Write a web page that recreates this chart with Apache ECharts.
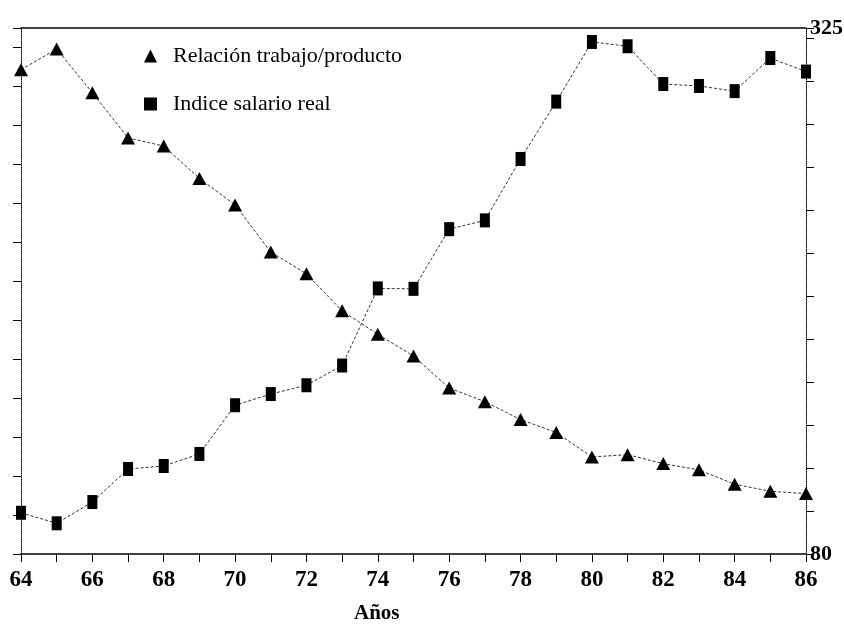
<!DOCTYPE html>
<html>
<head>
<meta charset="utf-8">
<script src="https://cdn.jsdelivr.net/npm/echarts@6/dist/echarts.min.js"></script>
<style>
html,body{margin:0;padding:0;background:#fff;}
#c{width:844px;height:624px;}
</style>
</head>
<body>
<div id="c"></div>
<script>
// Data
const years = [64,65,66,67,68,69,70,71,72,73,74,75,76,77,78,79,80,81,82,83,84,85,86];
const relacion = [124.3,129.6,118.4,106.8,104.7,96.4,89.6,77.5,71.9,62.4,56.4,50.8,42.6,39.1,34.5,31.2,24.9,25.5,23.2,21.6,17.9,16.1,15.5];
const salario = [99.2,94.3,104.2,119.6,121.0,126.6,149.3,154.5,158.6,167.8,203.7,203.5,231.3,235.4,264.0,290.7,318.5,316.5,298.9,298.0,295.6,311.0,304.7];
const xTickLabels = [64,66,68,70,72,74,76,78,80,82,84,86];
const rightAxisLabels = [80,325];
const seriesNames = ['Relación trabajo/producto','Indice salario real'];
const xAxisName = 'Años';

const serif = 'Liberation Serif';
const chart = echarts.init(document.getElementById('c'));
chart.setOption({
  animation: false,
  backgroundColor: '#fff',
  grid: {left: 21, right: 38, top: 28, bottom: 70, containLabel: false, outerBoundsMode: 'none'},
  legend: {
    orient: 'vertical', left: 139, top: 40,
    itemWidth: 13, itemHeight: 13, itemGap: 26,
    selectedMode: false,
    data: [{name: seriesNames[0], icon: 'triangle'}, {name: seriesNames[1], icon: 'rect'}],
    textStyle: {fontFamily: serif, fontSize: 22, color: '#000', padding: [0,0,0,11]}
  },
  xAxis: [
    {
      type: 'value', min: 64, max: 86, interval: 1, position: 'bottom',
      axisLine: {show: true, lineStyle: {color: '#000', width: 1.5}},
      axisTick: {show: true, length: 8, lineStyle: {color: '#000', width: 1}},
      axisLabel: {
        formatter: v => xTickLabels.includes(v) ? String(v) : '',
        margin: 15, color: '#000', fontFamily: serif, fontWeight: 'bold', fontSize: 23,
        showMinLabel: true, showMaxLabel: true
      },
      splitLine: {show: false}
    },
    {
      type: 'value', min: 64, max: 86, position: 'top',
      axisLine: {show: true, lineStyle: {color: '#000', width: 1.5}},
      axisTick: {show: false}, axisLabel: {show: false}, splitLine: {show: false}
    }
  ],
  yAxis: [
    {
      type: 'value', position: 'left', min: 0, max: 135, interval: 10,
      axisLine: {show: true, lineStyle: {color: '#000', width: 1, type: 'dotted'}},
      axisTick: {show: true, length: 8, lineStyle: {color: '#000', width: 1}},
      axisLabel: {show: false}, splitLine: {show: false}
    },
    {
      type: 'value', position: 'right', min: 80, max: 325, interval: 20,
      axisLine: {show: true, lineStyle: {color: '#000', width: 1, type: 'dotted'}},
      axisTick: {show: true, length: 8, lineStyle: {color: '#000', width: 1}},
      axisLabel: {
        formatter: v => rightAxisLabels.includes(v) ? String(v) : '',
        margin: 4, color: '#000', fontFamily: serif, fontWeight: 'bold', fontSize: 22,
        showMinLabel: true, showMaxLabel: true
      },
      splitLine: {show: false}
    }
  ],
  graphic: [{
    type: 'text', left: 354, top: 603,
    style: {text: xAxisName, fontFamily: serif, fontWeight: 'bold', fontSize: 21, fill: '#000'}
  }],
  series: [
    {
      name: seriesNames[0], type: 'line', xAxisIndex: 0, yAxisIndex: 0,
      data: years.map((y, i) => [y, relacion[i]]),
      symbol: 'triangle', symbolSize: [14, 13], showAllSymbol: true,
      itemStyle: {color: '#000'},
      lineStyle: {color: '#333', width: 1, type: [3, 2]}
    },
    {
      name: seriesNames[1], type: 'line', xAxisIndex: 0, yAxisIndex: 1,
      data: years.map((y, i) => [y, salario[i]]),
      symbol: 'rect', symbolSize: [10, 14], showAllSymbol: true,
      itemStyle: {color: '#000'},
      lineStyle: {color: '#333', width: 1, type: [3, 2]}
    }
  ]
});
</script>
</body>
</html>
